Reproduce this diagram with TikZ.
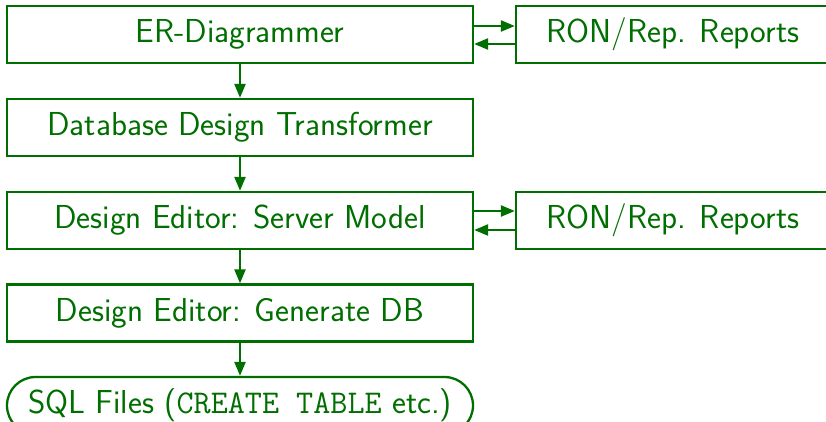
\documentclass[tikz,border=0pt]{standalone}
\usetikzlibrary{arrows.meta,shapes.misc}
\definecolor{dg}{RGB}{0,110,0}
\begin{document}
\begin{tikzpicture}[x=1pt,y=-1pt,
  box/.style={draw=dg,line width=2.3pt,rectangle,inner sep=0pt,minimum width=466pt,minimum height=57pt,text=dg,font=\fontsize{33.2}{38}\sffamily},
  rbox/.style={box,minimum width=314pt},
  sqlbox/.style={box,rounded rectangle,minimum width=466pt},
  arr/.style={draw=dg,line width=2.3pt,-{Triangle[length=14pt,width=11pt]}}]
\useasboundingbox (0,0) rectangle (826,422);
\begin{scope}
\clip (0,0) rectangle (826,422);
\node[box] (b1) at (240,34.5) {ER-Diagrammer};
\node[box] (b2) at (240,127.5) {Database Design Transformer};
\node[box] (b3) at (240,220.5) {Design Editor: Server Model};
\node[box] (b4) at (240,313) {Design Editor: Generate DB};
\node[sqlbox] (b5) at (240,405.5) {SQL Files (\texttt{CREATE TABLE} etc.)};
\node[rbox] (r1) at (673,34.5) {RON/Rep. Reports};
\node[rbox] (r2) at (673,220.5) {RON/Rep. Reports};
\draw[arr] (b1.south) -- (b2.north);
\draw[arr] (b2.south) -- (b3.north);
\draw[arr] (b3.south) -- (b4.north);
\draw[arr] (b4.south) -- (b5.north);
\draw[arr] (b1.east |- 0,26) -- (r1.west |- 0,26);
\draw[arr] (r1.west |- 0,44) -- (b1.east |- 0,44);
\draw[arr] (b3.east |- 0,211) -- (r2.west |- 0,211);
\draw[arr] (r2.west |- 0,230) -- (b3.east |- 0,230);
\end{scope}
\end{tikzpicture}
\end{document}
